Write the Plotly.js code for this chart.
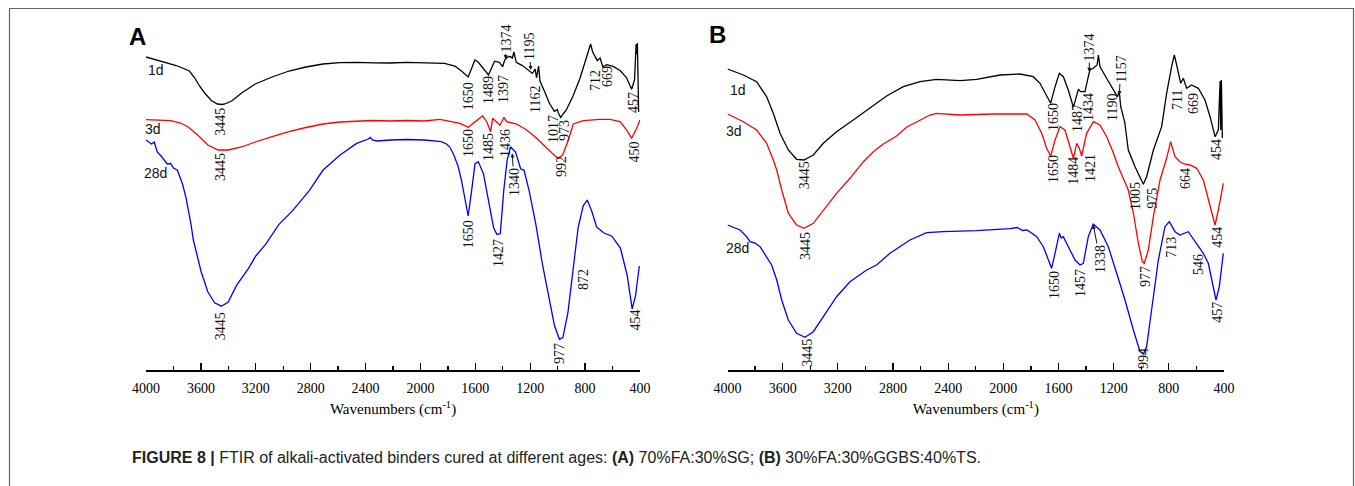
<!DOCTYPE html>
<html>
<head>
<meta charset="utf-8">
<script src="https://cdn.plot.ly/plotly-3.0.1.min.js"></script>
<style>html,body{margin:0;padding:0;background:#fff;}#chart{width:1355px;height:486px;}</style>
</head>
<body>
<div id="chart"></div>
<script>
// ---------- Panel A (70%FA:30%SG) : wavenumber (cm-1) and transmittance (a.u., offset) ----------
const a1dWn = [4000,3960,3918,3870,3820,3780,3734,3684,3647,3610,3573,3524,3480,3445,3426,3376,3303,3204,3081,2958,2834,2711,2588,2465,2340,2218,2100,1972,1824,1750,1701,1652,1627,1603,1578,1541,1504,1479,1460,1425,1401,1386,1368,1344,1330,1319,1310,1302,1257,1208,1184,1164,1154,1139,1129,1097,1061,1024,1010,1002,995,978,960,937,888,839,789,760,745,711,691,671,642,592,543,499,461,440,428,424,419,414,410];
const a1dT  = [313,311.5,310,308.5,306,304.5,302,299,292.5,284,277,269.5,266,265.5,266,269,277,286,293,299,303,306,307.4,307.7,307.2,307,307.6,307.4,306.7,304,299,293,302.7,310,307.7,301,295,302.7,308.8,307.7,303.3,310,312.8,313.5,312,318,311,307.7,304.4,299,296.6,301,292,304,289,279,267,258.7,260,260.5,257,252.5,256,260,274,291,313,326,318,309.4,312,303.3,305.4,303.3,299.3,292.5,280.7,290,326,316,327,290,258];

const a3dWn = [4000,3900,3820,3750,3697,3623,3549,3475,3401,3303,3204,3081,2958,2834,2711,2588,2465,2350,2218,2100,1972,1857,1712,1651,1602,1547,1517,1488,1474,1444,1420,1391,1372,1299,1226,1153,1080,1019,995,964,922,886,813,692,619,546,497,461,424,400];
const a3dT  = [250.3,249.8,249.3,247,243.5,235,225,220,220,223,228,233.4,238.4,242.5,246,248,248.6,249.5,249,249.5,249,250.7,246.7,242.7,248.3,254,248.3,238.3,251.7,247.3,244.8,252.7,248.3,246,240,231.7,221.7,214,211.7,215,230,246,249.3,250.7,250.7,248.3,240,231.7,241.7,250];

const a28dWn = [4000,3960,3940,3918,3890,3870,3845,3820,3800,3771,3750,3734,3709,3690,3672,3655,3635,3598,3549,3500,3450,3401,3339,3253,3200,3130,3031,2933,2810,2711,2588,2465,2380,2366,2350,2317,2218,2100,1972,1900,1849,1810,1787,1760,1738,1726,1701,1676,1652,1627,1602,1578,1560,1541,1504,1467,1442,1418,1393,1368,1344,1307,1270,1245,1208,1159,1110,1060,1023,987,962,925,888,851,814,785,752,716,666,605,543,494,457,432,405];
const a28dT  = [230,226,228,218,214,210,206,206.5,202,199.7,192,186,172.7,160,145.6,130,118.6,98.3,78,67.2,63.8,67.9,84.8,101.7,114,125.3,145.6,159.1,179.4,199.7,214.8,226.6,231,232.5,230,229,230,230.5,230,229,228.3,226,223.2,216,208,204,189.6,169.3,154,179.4,206.5,208.2,203,196.3,169.3,142.2,135.5,136.2,179.4,210,223.2,218,201.2,199.7,179.4,145.6,105,71.2,44.2,30.7,32.4,57.7,98.3,142.2,164.2,170,159,143,137.2,133.8,122,95,61.1,74.6,104];

// ---------- Panel B (30%FA:30%GGBS:40%TS) ----------
const b1dWn = [4000,3885,3789,3716,3668,3619,3559,3499,3445,3378,3305,3209,3088,2967,2846,2725,2604,2484,2314,2193,2024,1879,1783,1734,1686,1657,1625,1594,1565,1529,1492,1473,1456,1439,1408,1384,1372,1348,1320,1311,1299,1251,1202,1173,1159,1149,1120,1094,1045,1009,985,961,912,852,816,780,760,743,714,695,671,635,586,538,501,465,441,432,428,424,419,412];
const b1dT  = [301,295,288.3,273.3,256.7,236.7,220,210.7,210,215,226.7,238.3,250,261.7,274,283.3,288.3,290.7,289.3,290.7,295,296,293.3,286.7,273.3,266.7,283.3,296.7,293.3,280,262.7,271.7,280.7,278.3,278.3,293.3,300,301.7,305,315,303.3,291.7,280,273.3,278.3,263.3,248,220,203.3,191.7,185.7,193.3,220,243.3,276.7,303.3,315,305,286.7,291.7,281.7,285,281.7,270,253.3,233.3,240,275,289,240,290,232];

const b3dWn = [4000,3885,3789,3716,3668,3643,3607,3559,3499,3445,3378,3305,3209,3112,3015,2943,2870,2774,2700,2628,2532,2484,2314,2073,1831,1770,1722,1686,1657,1625,1589,1553,1517,1492,1468,1449,1432,1396,1347,1299,1250,1202,1166,1130,1094,1057,1021,992,978,949,912,864,816,787,755,719,690,646,598,550,514,465,441,405];
const b3dT  = [256,248.3,240,226.7,210,200,180,156.7,145,141.7,146.7,160,176.7,191.7,208.3,218.3,226,234,243,248,255,256.7,255,256,256,250,236.7,221.7,214,230,243.3,240,223.3,211.7,226.7,221.7,214,236.7,248.3,245,233,217,203,192,180,157,126.7,108.3,106.7,120,153.3,190,211.7,228.3,213.3,208.3,206,205,201.7,190,170,145,160,186.7];

const b28dWn = [4000,3960,3930,3909,3880,3860,3837,3800,3764,3740,3716,3680,3643,3607,3559,3499,3438,3378,3305,3209,3112,2991,2919,2822,2677,2556,2435,2193,1952,1900,1860,1831,1800,1758,1710,1674,1650,1625,1594,1580,1565,1529,1480,1444,1420,1384,1348,1299,1239,1178,1118,1057,1009,985,961,925,876,828,797,755,719,659,610,550,514,477,458,434,405];
const b28dT  = [145,143,141,140,136,133,128.3,127,123.3,118,113.3,105,90,70,50,36.7,32.7,38.3,53.3,73.3,88.3,100,105,116.7,130,137.3,138.3,139.3,141.3,142.5,139.5,140,137.5,133.3,123.3,110,101.7,116.7,136.7,132,133.3,123.3,110,105,106.7,133.3,146,140,123.3,96.7,70,40,18.3,16,23.3,60,110,143.3,148.3,138.3,135,138.3,128.3,116.7,106.7,80,70,83.3,116.7];

// ---------- peak labels: [text, wavenumber, transmittance] ----------
const peakLabelsA = [
  ['3445',3463,248],['1650',1652,274],['1489',1504,279.5],['1397',1398,281],['1162',1165,270],
  ['1017',1034,241],['973',954,240],['712',728,290],['669',640,293],['457',451,267],
  ['3445',3461,203],['1650',1653,227],['1485',1504,222.5],['1436',1384,227],['992',976,204],['450',447,218],
  ['3445',3456,43.5],['1650',1652,136],['1427',1435,117],['977',987,16.5],['872',815,90],['454',440,50]
];
// arrowed labels: [text, tip wavenumber, tip transmittance, dx, dy]
const arrowLabelsA = [['1374',1381,311,1.6,-20.4],['1195',1196,300,-1.7,-23],['1340',1331,216.5,1.8,28.5]];

const peakLabelsB = [
  ['3445',3443,195],['1650',1640,253],['1487',1466,252],['1434',1386,263],['1190',1212,262],
  ['711',741,270],['669',625,267],['454',458,220],['1005',1045,174],['975',924,172],
  ['3445',3438,124],['1650',1640,201],['1484',1497,199],['1421',1372,202],['664',683,192],['454',453,133],['977',973,94],
  ['3445',3426,17],['1650',1633,85],['1457',1444,87],['713',786.5,123],['546',588.5,105],['457',453,58],['994',987,11]
];
const arrowLabelsB = [['1374',1377,298.3,0.2,-24.7],['1157',1159,275,1.4,-26],['1338',1348,145,6.7,34]];

const seriesNames = ['1d','3d','28d'];
const seriesColors = ['#000000','#ff0000','#0000ff'];

const W = 1355, H = 486;
const serif = 'Liberation Serif, Times New Roman, serif';
const sans = 'Liberation Sans, Arial, sans-serif';

function tr(x, y, i, ax) {
  return {x: x, y: y, type: 'scatter', mode: 'lines', name: seriesNames[i],
    xaxis: ax === 1 ? 'x' : 'x2', yaxis: ax === 1 ? 'y' : 'y2',
    line: {color: seriesColors[i], width: 1.3}, hoverinfo: 'skip'};
}
const data = [
  tr(a1dWn, a1dT, 0, 1), tr(a3dWn, a3dT, 1, 1), tr(a28dWn, a28dT, 2, 1),
  tr(b1dWn, b1dT, 0, 2), tr(b3dWn, b3dT, 1, 2), tr(b28dWn, b28dT, 2, 2)
];

const annotations = [];
function addPeaks(list, xr, yr) {
  list.forEach(p => annotations.push({text: p[0], x: p[1], y: p[2], xref: xr, yref: yr,
    showarrow: false, textangle: -90, xanchor: 'center', yanchor: 'middle',
    font: {family: serif, size: 14, color: '#111'}}));
}
function addArrows(list, xr, yr) {
  list.forEach(p => annotations.push({text: p[0], x: p[1], y: p[2], xref: xr, yref: yr,
    showarrow: true, ax: p[3], ay: p[4], arrowhead: 2, arrowsize: 0.8, arrowwidth: 1, arrowcolor: '#111',
    textangle: -90, font: {family: serif, size: 14, color: '#111'}}));
}
addPeaks(peakLabelsA, 'x', 'y'); addArrows(arrowLabelsA, 'x', 'y');
addPeaks(peakLabelsB, 'x2', 'y2'); addArrows(arrowLabelsB, 'x2', 'y2');

function paperText(t, px, py, font, extra) {
  annotations.push(Object.assign({text: t, x: px / W, y: 1 - py / H, xref: 'paper', yref: 'paper',
    showarrow: false, xanchor: 'center', yanchor: 'middle', font: font}, extra || {}));
}
const bold = {family: sans, size: 24, color: '#000'};
paperText('<b>A</b>', 137.5, 36.5, bold);
paperText('<b>B</b>', 717.5, 35, bold);
const sl = {family: sans, size: 14, color: '#111'};
paperText(seriesNames[0], 156, 70, sl); paperText(seriesNames[1], 153, 129, sl); paperText(seriesNames[2], 155, 173, sl);
paperText(seriesNames[0], 738, 90, sl); paperText(seriesNames[1], 734, 131, sl); paperText(seriesNames[2], 737.5, 247.5, sl);
paperText('<b>FIGURE 8 |</b> FTIR of alkali-activated binders cured at different ages: <b>(A)</b> 70%FA:30%SG; <b>(B)</b> 30%FA:30%GGBS:40%TS.',
  130, 457, {family: sans, size: 16, color: '#222'}, {xanchor: 'left'});

const yDom = [(H - 370) / H, (H - 20) / H];
function xax(d, anchor) {
  return {domain: d, anchor: anchor, range: [4000, 400], autorange: false,
    tick0: 0, dtick: 400, ticks: 'inside', ticklen: 7, tickwidth: 1.3, tickcolor: '#000',
    minor: {dtick: 200, ticks: 'inside', ticklen: 4, tickwidth: 1.3, tickcolor: '#000'},
    showline: true, linecolor: '#000', linewidth: 1.5, showgrid: false, zeroline: false,
    ticklabelstandoff: 5,
    tickfont: {family: serif, size: 14, color: '#000'},
    title: {text: 'Wavenumbers (cm<sup>-1</sup>)', font: {family: serif, size: 15, color: '#000'}, standoff: 8},
    fixedrange: true};
}
const yax = a => ({domain: yDom, anchor: a, range: [0, 350], visible: false, showgrid: false, zeroline: false, fixedrange: true});

const layout = {
  width: W, height: H, margin: {l: 0, r: 0, t: 0, b: 0},
  paper_bgcolor: '#fff', plot_bgcolor: 'rgba(0,0,0,0)', showlegend: false,
  xaxis: xax([146 / W, 640 / W], 'y'), yaxis: yax('x'),
  xaxis2: xax([727.5 / W, 1224 / W], 'y2'), yaxis2: yax('x2'),
  annotations: annotations,
  shapes: [{type: 'rect', xref: 'paper', yref: 'paper', x0: 9.5 / W, x1: 1353.5 / W, y0: -0.05, y1: 1 - 8.5 / H,
    line: {color: '#666', width: 1.2}}]
};
Plotly.newPlot('chart', data, layout, {staticPlot: true, displayModeBar: false});
</script>
</body>
</html>
